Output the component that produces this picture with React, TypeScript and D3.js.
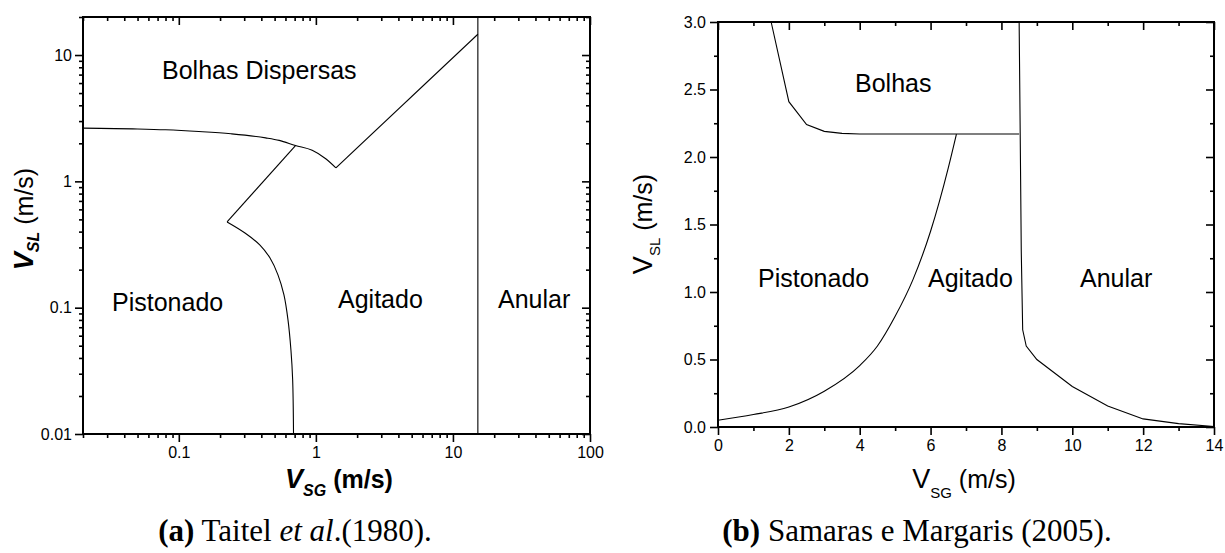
import React, { useEffect, useRef } from 'react';
import * as d3 from 'd3';

type Pt = [number, number];

// (a) Taitel et al. (1980) — log-log map, VSG x VSL
const taitelDispersedTop: Pt[] = [
  [0.02, 2.64], [0.05, 2.6], [0.08, 2.56], [0.14, 2.48], [0.24, 2.38],
  [0.43, 2.21], [0.54, 2.11], [0.71, 1.92], [0.94, 1.76], [1.18, 1.51], [1.4, 1.28],
];
const taitelDispersedRight: Pt[] = [[1.4, 1.28], [15.2, 14.6]];
const taitelSlugLeft: Pt[] = [[0.71, 1.92], [0.225, 0.477]];
const taitelSlugCurve: Pt[] = [
  [0.225, 0.477], [0.304, 0.39], [0.391, 0.313], [0.463, 0.247], [0.529, 0.182],
  [0.585, 0.126], [0.626, 0.08], [0.658, 0.046], [0.677, 0.027], [0.687, 0.01],
];
const taitelAnnularX = 15.2;
const taitelXTicks = [0.1, 1, 10, 100];
const taitelYTicks = [0.01, 0.1, 1, 10];

// (b) Samaras e Margaris (2005) — linear map
const samarasBubble: Pt[] = [
  [1.5, 3.0], [2, 2.41], [2.5, 2.24], [3, 2.19], [3.5, 2.175], [4, 2.17], [8.5, 2.17],
];
const samarasChurn: Pt[] = [
  [0, 0.05], [1, 0.092], [2, 0.148], [3, 0.265], [4, 0.455], [4.5, 0.6],
  [5, 0.82], [5.5, 1.09], [6, 1.45], [6.5, 1.92], [6.73, 2.17],
];
const samarasAnnular: Pt[] = [
  [8.5, 3.0], [8.53, 2.17], [8.56, 1.3], [8.6, 0.72], [8.7, 0.6], [9, 0.5],
  [10, 0.3], [11, 0.155], [12, 0.06], [13, 0.025], [14, 0.004],
];
const samarasXTicks = [0, 2, 4, 6, 8, 10, 12, 14];
const samarasXMinor = [1, 3, 5, 7, 9, 11, 13];
const samarasYTicks = [0, 0.5, 1, 1.5, 2, 2.5, 3];
const samarasYMinor = [0.25, 0.75, 1.25, 1.75, 2.25, 2.75];

const regionsA = ['Bolhas Dispersas', 'Pistonado', 'Agitado', 'Anular'];
const regionsB = ['Bolhas', 'Pistonado', 'Agitado', 'Anular'];

const FONT = '"Liberation Sans", Arial, Helvetica, sans-serif';
const SERIF = '"Liberation Serif", "Times New Roman", serif';

function logMinors(domain: number[]) {
  const out: number[] = [];
  for (let e = -3; e <= 3; e++) {
    for (let m = 2; m <= 9; m++) {
      const v = m * Math.pow(10, e);
      if (v >= domain[0] - 1e-9 && v <= domain[1] + 1e-9) out.push(+v.toPrecision(3));
    }
  }
  return out;
}

function drawAxes(g: any, x: any, y: any, xMaj: number[], xMin: number[], yMaj: number[], yMin: number[],
  fx: (d: any) => string, fy: (d: any) => string, padX: number, padY: number) {
  const [x0, x1] = x.range();
  const [y0, y1] = y.range();
  const style = (sel: any) => {
    sel.select('.domain').remove();
    sel.selectAll('line').attr('stroke', '#000').attr('stroke-width', 1.6);
    sel.selectAll('text').attr('font-family', FONT).attr('font-size', 16).attr('fill', '#000');
  };
  const none = () => '';
  g.append('g').attr('transform', `translate(0,${y0})`)
    .call(d3.axisBottom(x).tickValues(xMaj).tickSize(8).tickPadding(padX).tickFormat(fx)).call(style);
  g.append('g').attr('transform', `translate(0,${y0})`)
    .call(d3.axisBottom(x).tickValues(xMin).tickSize(4).tickFormat(none)).call(style);
  g.append('g').attr('transform', `translate(0,${y1})`)
    .call(d3.axisTop(x).tickValues(xMaj).tickSize(-8).tickFormat(none)).call(style);
  g.append('g').attr('transform', `translate(0,${y1})`)
    .call(d3.axisTop(x).tickValues(xMin).tickSize(-4).tickFormat(none)).call(style);
  g.append('g').attr('transform', `translate(${x0},0)`)
    .call(d3.axisLeft(y).tickValues(yMaj).tickSize(8).tickPadding(padY).tickFormat(fy)).call(style);
  g.append('g').attr('transform', `translate(${x0},0)`)
    .call(d3.axisLeft(y).tickValues(yMin).tickSize(4).tickFormat(none)).call(style);
  g.append('g').attr('transform', `translate(${x1},0)`)
    .call(d3.axisRight(y).tickValues(yMaj).tickSize(-8).tickFormat(none)).call(style);
  g.append('g').attr('transform', `translate(${x1},0)`)
    .call(d3.axisRight(y).tickValues(yMin).tickSize(-4).tickFormat(none)).call(style);
  g.append('rect')
    .attr('x', x0).attr('y', y1).attr('width', x1 - x0).attr('height', y0 - y1)
    .attr('fill', 'none').attr('stroke', '#000').attr('stroke-width', 2);
}

function addLabel(g: any, text: string, x: number, y: number) {
  g.append('text').attr('x', x).attr('y', y)
    .attr('font-family', FONT).attr('font-size', 25).attr('fill', '#000').text(text);
}

const App = () => {
  const plotRef = useRef<SVGGElement>(null);

  useEffect(() => {
    const root = d3.select(plotRef.current);
    root.selectAll('*').remove();

    const line = (x: any, y: any, curve: any) =>
      d3.line<Pt>().x(d => x(d[0])).y(d => y(d[1])).curve(curve);
    const path = (g: any, data: Pt[], gen: any) =>
      g.append('path').datum(data).attr('d', gen).attr('fill', 'none')
        .attr('stroke', '#000').attr('stroke-width', 1.1);

    // ---- chart (a)
    const xa = d3.scaleLog().domain([0.02, 100]).range([83, 590]);
    const ya = d3.scaleLog().domain([0.01, 20]).range([434, 17]);
    const ga = root.append('g');
    const fmtLog = (d: any) => String(+d);
    drawAxes(ga, xa, ya, taitelXTicks, logMinors(xa.domain()), taitelYTicks, logMinors(ya.domain()),
      fmtLog, fmtLog, 5, 3);
    path(ga, taitelDispersedTop, line(xa, ya, d3.curveMonotoneX));
    path(ga, taitelDispersedRight, line(xa, ya, d3.curveLinear));
    path(ga, taitelSlugLeft, line(xa, ya, d3.curveLinear));
    path(ga, taitelSlugCurve, line(xa, ya, d3.curveCatmullRom));
    path(ga, [[taitelAnnularX, 0.01], [taitelAnnularX, 20]], line(xa, ya, d3.curveLinear));

    addLabel(ga, regionsA[0], 162, 79);
    addLabel(ga, regionsA[1], 112, 311);
    addLabel(ga, regionsA[2], 338, 308);
    addLabel(ga, regionsA[3], 498, 308);

    // ---- chart (b)
    const xb = d3.scaleLinear().domain([0, 14]).range([718, 1214]);
    const yb = d3.scaleLinear().domain([0, 3]).range([427, 22]);
    const gb = root.append('g');
    drawAxes(gb, xb, yb, samarasXTicks, samarasXMinor, samarasYTicks, samarasYMinor,
      (d: any) => String(d), d3.format('.1f'), 5, 4);
    path(gb, samarasBubble, line(xb, yb, d3.curveLinear));
    path(gb, samarasChurn, line(xb, yb, d3.curveMonotoneX));
    path(gb, samarasAnnular, line(xb, yb, d3.curveLinear));

    addLabel(gb, regionsB[0], 855, 92);
    addLabel(gb, regionsB[1], 758, 287);
    addLabel(gb, regionsB[2], 928, 287);
    addLabel(gb, regionsB[3], 1080, 287);
  }, []);

  return (
    <svg width={1225} height={553}
      style={{ position: 'absolute', left: 0, top: 0, background: '#fff' }}>
      <g ref={plotRef} />
      <text transform="translate(33,219) rotate(-90)" textAnchor="middle" fontFamily={FONT} fill="#000">
        <tspan fontSize={27} fontWeight="bold" fontStyle="italic">V</tspan>
        <tspan fontSize={16} fontWeight="bold" fontStyle="italic" dy={6}>SL</tspan>
        <tspan fontSize={25} dy={-6}> (m/s)</tspan>
      </text>
      <text x={339} y={488} textAnchor="middle" fontFamily={FONT} fill="#000" fontWeight="bold">
        <tspan fontSize={27} fontStyle="italic">V</tspan>
        <tspan fontSize={16} fontStyle="italic" dy={8}>SG</tspan>
        <tspan fontSize={25} dy={-8}> (m/s)</tspan>
      </text>
      <text transform="translate(652,224) rotate(-90)" textAnchor="middle" fontFamily={FONT} fill="#000">
        <tspan fontSize={27}>V</tspan>
        <tspan fontSize={15} dy={8}>SL</tspan>
        <tspan fontSize={25} dy={-8}> (m/s)</tspan>
      </text>
      <text x={964} y={488} textAnchor="middle" fontFamily={FONT} fill="#000">
        <tspan fontSize={27}>V</tspan>
        <tspan fontSize={15} dy={10}>SG</tspan>
        <tspan fontSize={25} dy={-10}> (m/s)</tspan>
      </text>
      <text x={295} y={541} textAnchor="middle" fontFamily={SERIF} fontSize={31} fill="#000">
        <tspan fontWeight="bold">(a)</tspan> Taitel <tspan fontStyle="italic">et al</tspan>.(1980).
      </text>
      <text x={917} y={541} textAnchor="middle" fontFamily={SERIF} fontSize={31} fill="#000">
        <tspan fontWeight="bold">(b)</tspan> Samaras e Margaris (2005).
      </text>
    </svg>
  );
};

export default App;
